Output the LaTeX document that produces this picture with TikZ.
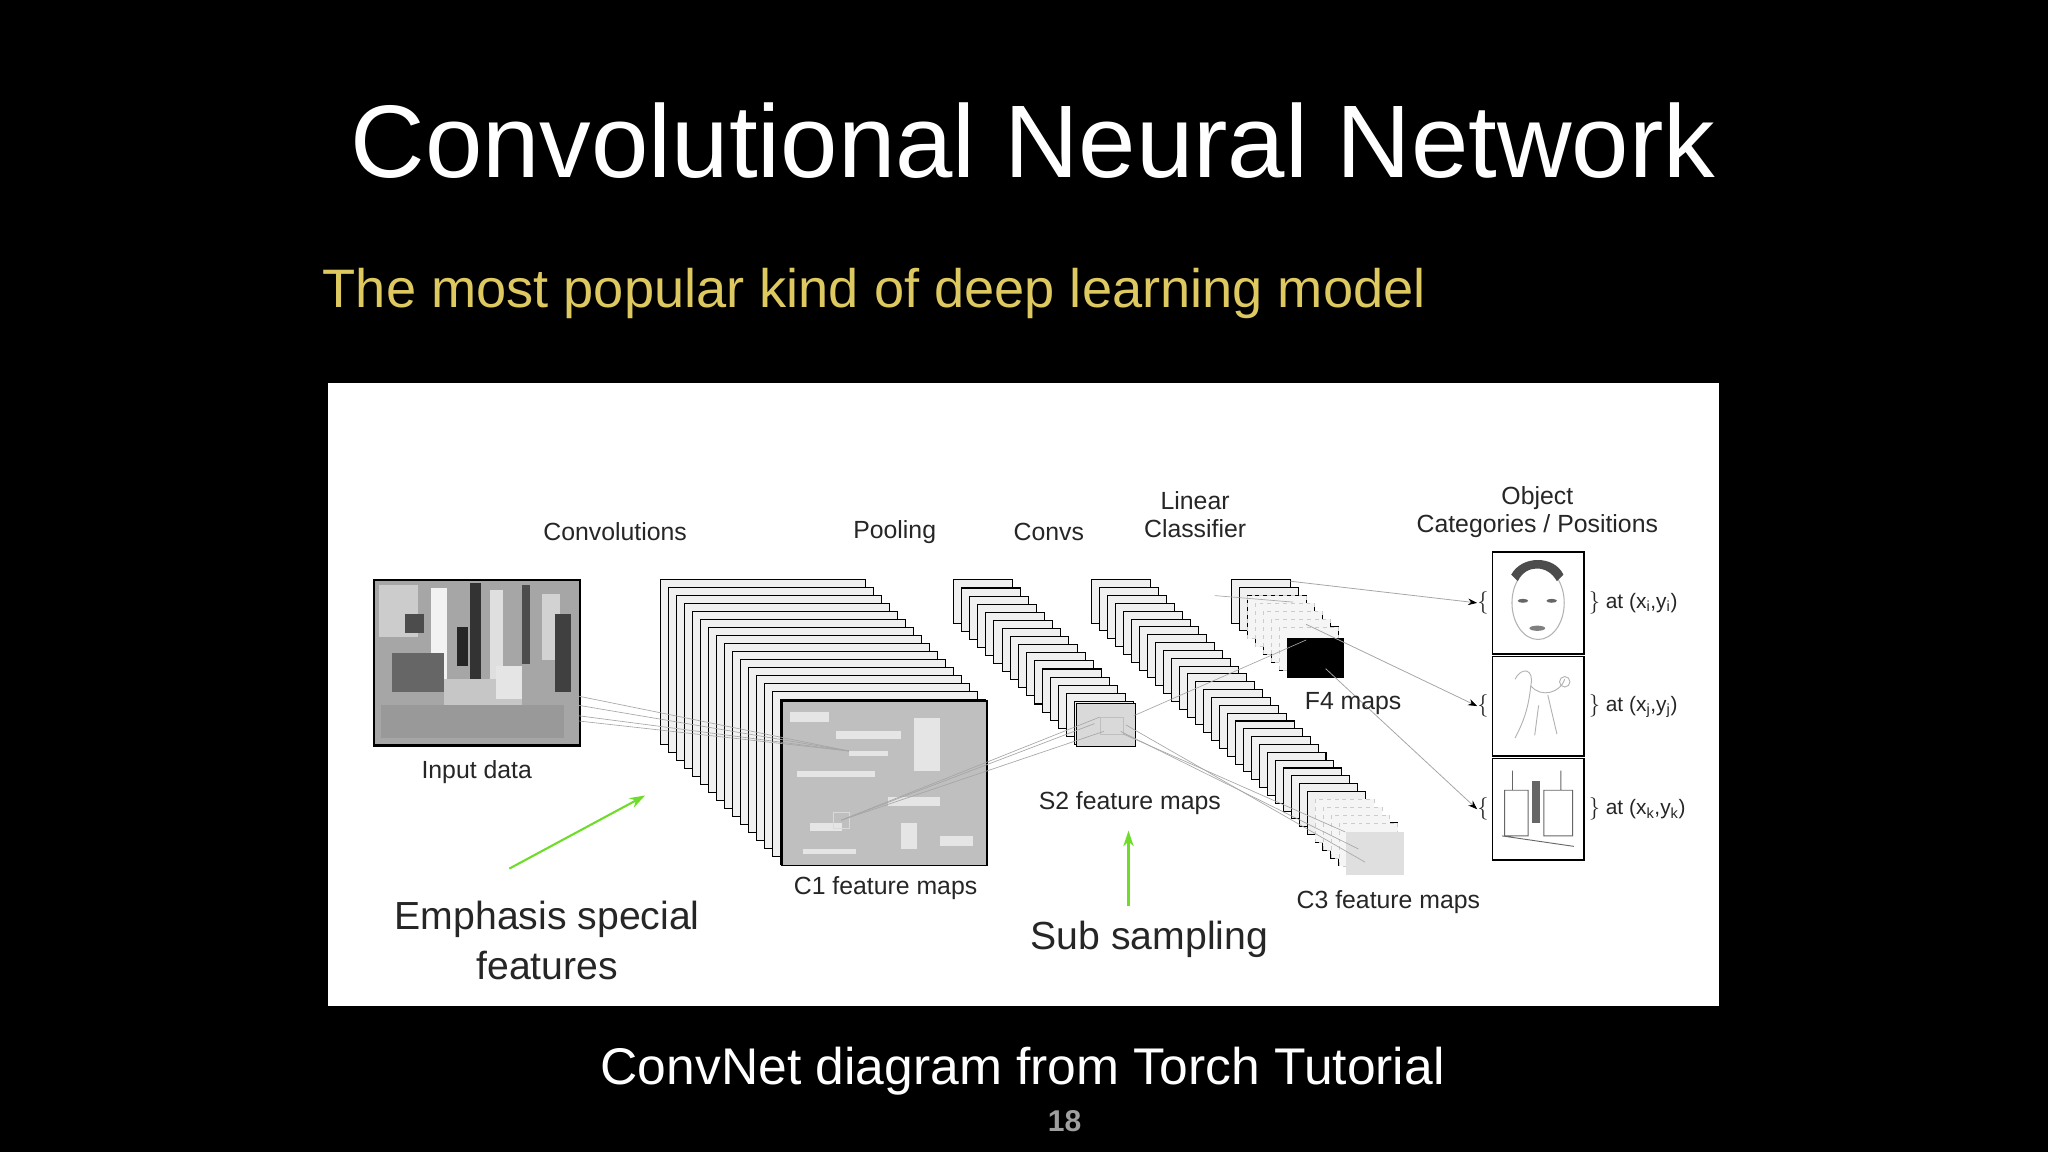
\documentclass[tikz,border=0pt]{standalone}
\usepackage{fontspec}
\setmainfont{Liberation Sans}
\usetikzlibrary{arrows.meta,shadows}
\definecolor{subyellow}{RGB}{222,200,96}
\definecolor{arrgreen}{RGB}{110,220,40}
\tikzset{
  lbl/.style={font=\fontsize{19}{22}\selectfont, text=black!85, align=center, inner sep=0},
  layer/.style={draw=black, line width=0.8pt, fill=gray!12},
  pic/.style={draw=black, line width=1.2pt},
  conn/.style={draw=gray!70, line width=0.5pt},
  objarr/.style={draw=gray!70, line width=0.6pt, -{Stealth[length=7pt,width=5pt,black]}},
  garr/.style={draw=arrgreen, line width=1.6pt, -{Stealth[length=12pt,width=8pt]}},
  big/.style={font=\fontsize{30}{38}\selectfont, align=center, text=black!85, inner sep=0}
}
\begin{document}
\begin{tikzpicture}[x=1pt,y=-1pt]
\useasboundingbox (0,0) rectangle (1568,882);
\fill[black] (0,0) rectangle (1568,882);
\node[text=white, font=\fontsize{79}{86}\selectfont, inner sep=0] (title) at (791,108) {Convolutional Neural Network};
\node[text=subyellow, font=\fontsize{41.5}{46}\selectfont, anchor=west, inner sep=0] (sub) at (247,225) {The most popular kind of deep learning model};
\node[fill=white, minimum width=1065, minimum height=477, inner sep=0, anchor=north west] (panel) at (251,293) {};
\node[text=white, font=\fontsize{39.5}{46}\selectfont, inner sep=0] (cap) at (783,820) {ConvNet diagram from Torch Tutorial};
\node[text=gray!75, font=\bfseries\fontsize{23}{26}\selectfont, inner sep=0] (num) at (815,858) {18};

% input image
\node[pic, fill=gray!70, minimum width=157, minimum height=126, inner sep=0, anchor=north west] (inp) at (286,444) {};
\foreach \x/\y/\w/\h/\c in {290/448/30/40/gray!40, 330/450/12/80/gray!10, 360/446/8/90/black!80, 375/452/10/70/gray!25, 400/448/6/60/black!70, 415/455/14/50/gray!35, 300/500/40/30/black!60, 340/520/60/40/gray!45, 292/540/140/25/gray!80, 380/510/20/25/gray!20, 425/470/12/60/black!75, 310/470/15/15/black!70, 350/480/8/30/black!85}
  \fill[\c] (\x,\y) rectangle ++(\w,\h);
\draw[pic] (inp.north west) rectangle (inp.south east);
\node[lbl] (inpl) at (365,591) {Input data};

% C1 stack
\foreach \i in {0,...,15}
  \draw[layer] (506+\i*6.1,444+\i*6.1) rectangle ++(157,126);
\node[pic, fill=gray!50, minimum width=157, minimum height=126, inner sep=0, anchor=north west] (c1) at (598,536) {};
\foreach \x/\y/\w/\h in {605/545/30/8, 640/560/50/6, 700/550/20/40, 610/590/60/5, 680/610/40/7, 620/630/25/6, 720/640/25/8, 650/575/30/4, 615/650/40/4, 690/630/12/20}
  \fill[gray!20] (\x,\y) rectangle ++(\w,\h);
\draw[gray!30] (638,622) rectangle (650,634);
\coordinate (c1p) at (644,628);
\coordinate (c1q) at (650,575);

% S2 stack
\foreach \i in {0,...,15}
  \draw[layer] (730+\i*6.2,444+\i*6.2) rectangle ++(45,33);
\node[draw=black, line width=0.8pt, fill=gray!30, minimum width=45, minimum height=33, inner sep=0, anchor=north west] (s2) at (824,538) {};
\draw[gray!50] (842,549) rectangle (860,562);

% C3 stack
\foreach \i in {0,...,31}
  \draw[layer] (836+\i*6.1,444+\i*6.0) rectangle ++(45,33);
\foreach \i in {28,...,31}
  \draw[draw=gray!40, dashed, fill=gray!8] (836+\i*6.1,444+\i*6.0) rectangle ++(45,33);
\node[fill=gray!25, minimum width=45, minimum height=33, inner sep=0, anchor=north west] (c3) at (1030,637) {};

% F4 stack
\foreach \i in {0,...,6}
  \draw[layer] (943+\i*6.1,444+\i*6.0) rectangle ++(45,33);
\foreach \i in {2,...,6}
  \draw[draw=gray!40, dashed, fill=gray!8] (943+\i*6.1,444+\i*6.0) rectangle ++(45,33);
\node[fill=black, minimum width=44, minimum height=31, inner sep=0, anchor=north west] (f4) at (985,488) {};

% connectors
\draw[conn] (443,533) -- (c1q);
\draw[conn] (443,540) -- (c1q);
\draw[conn] (443,548) -- (c1q);
\draw[conn] (443,552) -- (c1q);
\draw[conn] (c1p) -- (842,549);
\draw[conn] (c1p) -- (845,560);
\draw[conn] (c1p) -- (838,554);
\draw[conn] (860,562) -- (c3.north west);
\draw[conn] (858,560) -- (1040,650);
\draw[conn] (862,555) -- (1045,660);
\draw[conn] (868,548) -- (1000,490);
\draw[conn] (930,456) -- (990,461);

% objects
\node[pic, fill=white, minimum width=70, minimum height=78, inner sep=0, anchor=north west] (o1) at (1142,422) {};
\node[pic, fill=white, minimum width=70, minimum height=76, inner sep=0, anchor=north west] (o2) at (1142,502) {};
\node[pic, fill=white, minimum width=70, minimum height=78, inner sep=0, anchor=north west] (o3) at (1142,580) {};
% face
\draw[gray!60, line width=0.8pt] (o1.center) ellipse (20 and 28);
\fill[black!70] (1157,440) .. controls (1165,425) and (1190,425) .. (1197,440) -- (1192,445) .. controls (1185,432) and (1168,432) .. (1162,445) -- cycle;
\fill[black!60] (1166,460) ellipse (4 and 1.5) (1188,460) ellipse (4 and 1.5);
\fill[black!50] (1177,481) ellipse (6 and 2);
% dog
\draw[gray!60, line width=0.7pt] (1160,520) .. controls (1165,510) and (1175,512) .. (1172,525) .. controls (1180,535) and (1195,530) .. (1198,520) (1172,525) .. controls (1170,545) and (1165,555) .. (1160,565) (1185,532) -- (1192,562) (1178,540) -- (1175,563);
\draw[gray!60, line width=0.7pt] (1198,522) circle (4);
% furniture
\draw[black!60, line width=0.7pt] (1152,605) rectangle (1170,640) (1182,605) rectangle (1204,640) (1150,640) -- (1205,648) (1158,590) -- (1158,605) (1195,590) -- (1195,605);
\fill[black!60] (1173,598) rectangle (1179,630);

\foreach \o/\t in {o1/{$\}$ at (x\textsubscript{i},y\textsubscript{i})}, o2/{$\}$ at (x\textsubscript{j},y\textsubscript{j})}, o3/{$\}$ at (x\textsubscript{k},y\textsubscript{k})}} {
  \node[lbl, font=\fontsize{16}{18}\selectfont, anchor=west] (\o r) at ([xshift=3]\o.east) {\t};
  \node[lbl, font=\fontsize{16}{18}\selectfont, anchor=east] (\o l) at ([xshift=-2]\o.west) {$\{$};
}
\draw[objarr] (988,445) -- (o1l.west);
\draw[objarr] (1000,478) -- (o2l.west);
\draw[objarr] (1015,512) -- (o3l.west);

% labels
\node[lbl] (lconv) at (471,407) {Convolutions};
\node[lbl] (lpool) at (685,407) {Pooling};
\node[lbl] (lconvs) at (803,407) {Convs};
\node[lbl] (llin) at (915,394) {Linear\\Classifier};
\node[lbl] (lobj) at (1177,392) {Object\\Categories / Positions};
\node[lbl] (lc1) at (678,680) {C1 feature maps};
\node[lbl] (ls2) at (865,615) {S2 feature maps};
\node[lbl] (lc3) at (1063,691) {C3 feature maps};
\node[lbl] (lf4) at (1036,539) {F4 maps};

\node[big] (emph) at (419,720) {Emphasis special\\features};
\node[big] (subs) at (880,719) {Sub sampling};
\coordinate (g1s) at (390,665);
\coordinate (g1e) at (494,609);
\coordinate (g2s) at (864,694);
\coordinate (g2e) at (864,636);
\draw[garr] (g1s) -- (g1e);
\draw[garr] (g2s) -- (g2e);
\end{tikzpicture}
\end{document}
